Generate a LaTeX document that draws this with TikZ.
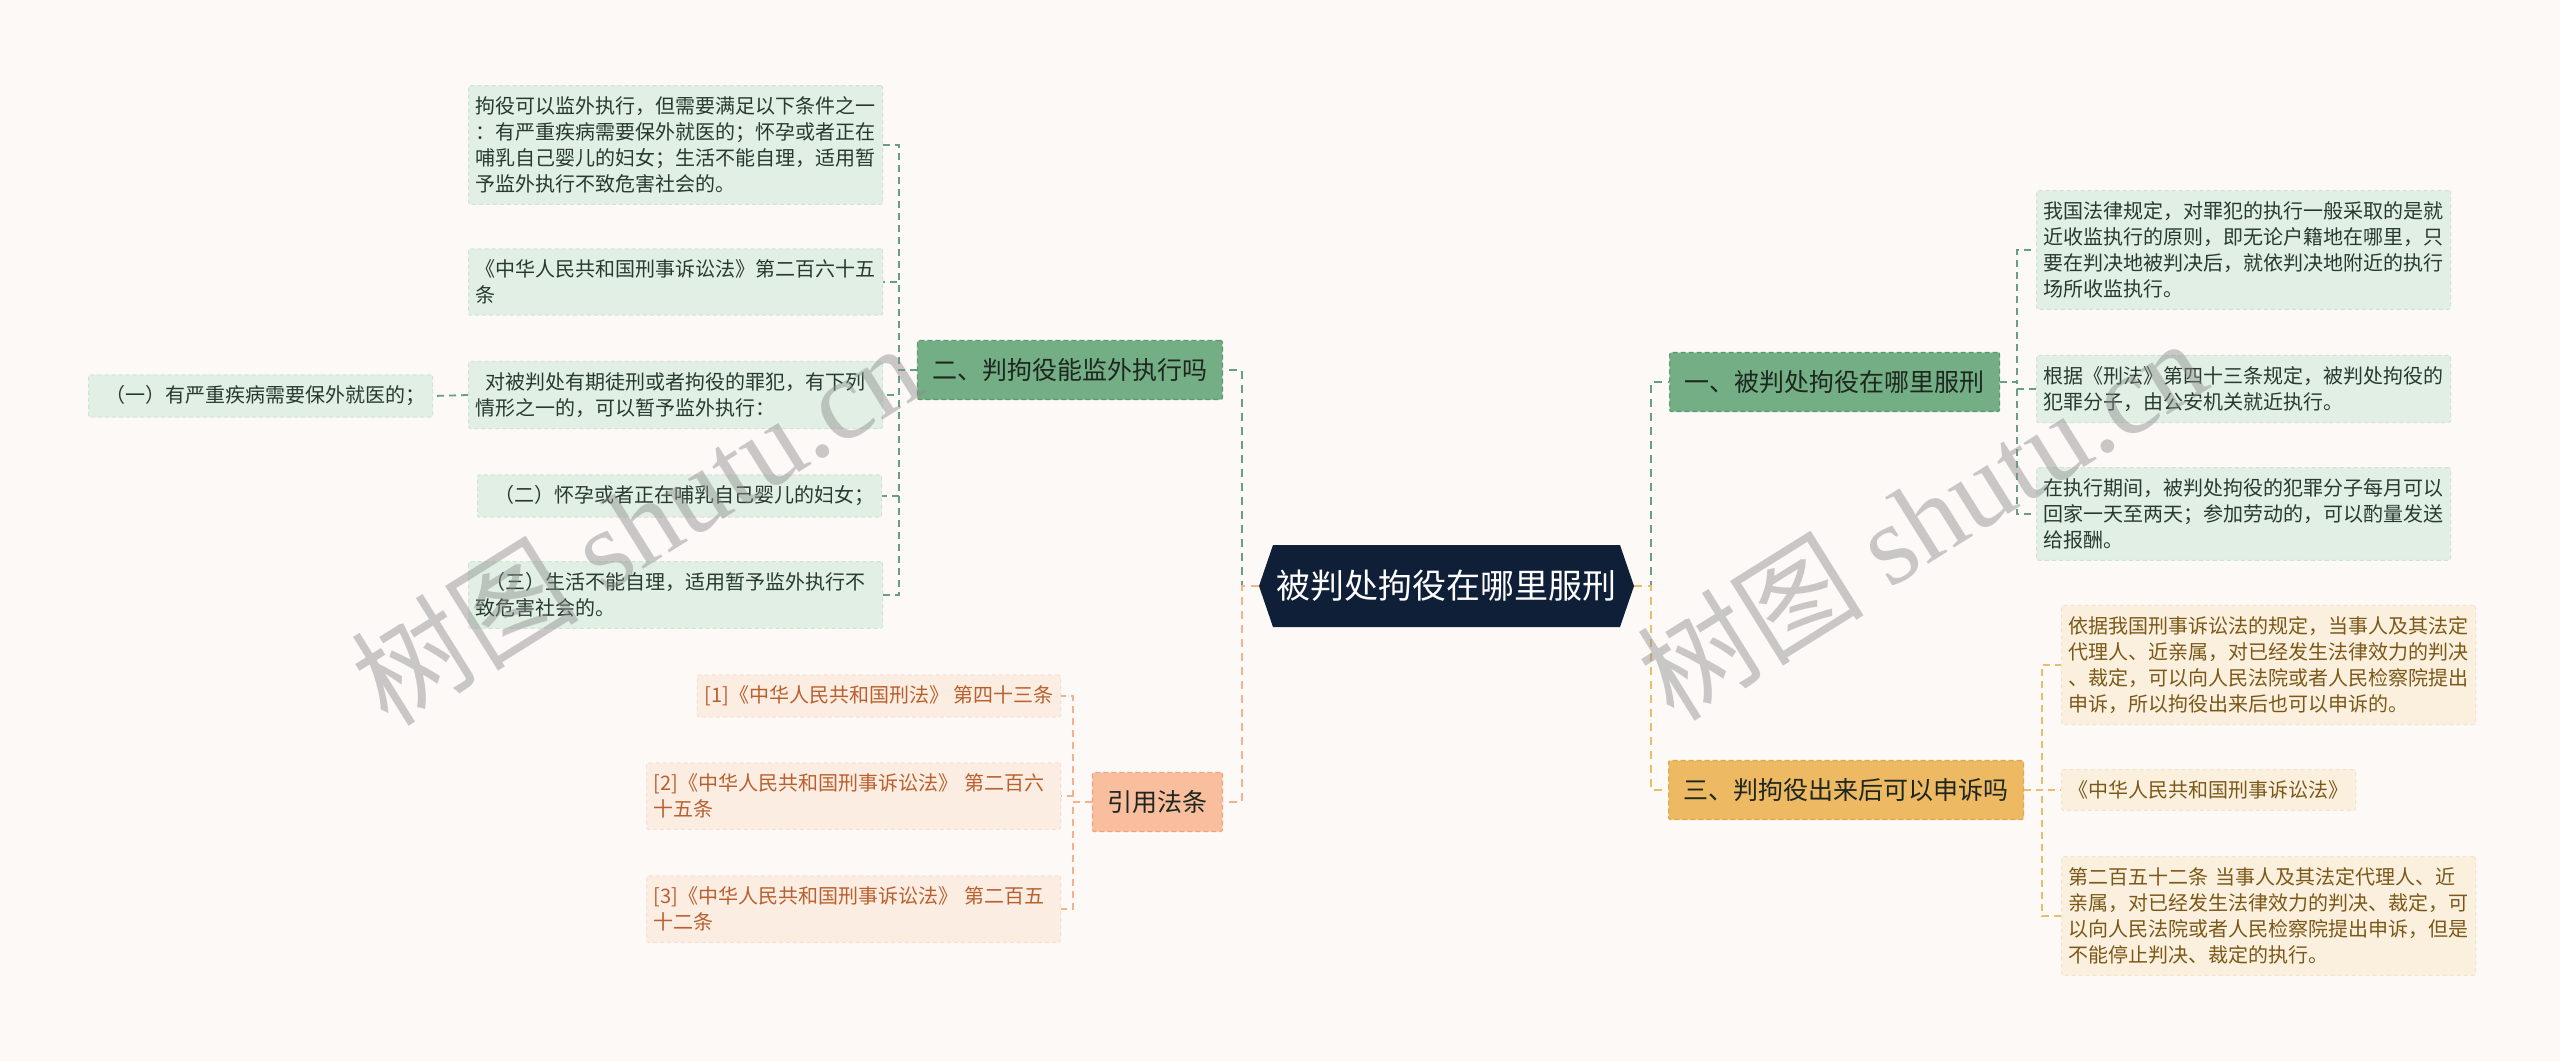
\documentclass[tikz,border=0pt]{standalone}
\usepackage{fontspec}
\setmainfont{Noto Sans CJK SC}
\newfontfamily\wmserif{Liberation Serif}
\definecolor{bgc}{RGB}{252,249,247}
\definecolor{navy}{RGB}{15,31,56}
\definecolor{gmain}{RGB}{116,174,132}
\definecolor{gmainb}{RGB}{94,152,112}
\definecolor{gleaf}{RGB}{225,239,229}
\definecolor{gleafb}{RGB}{208,228,214}
\definecolor{gtext}{RGB}{40,58,47}
\definecolor{gline}{RGB}{104,158,132}
\definecolor{omain}{RGB}{249,190,158}
\definecolor{omainb}{RGB}{240,165,125}
\definecolor{oleaf}{RGB}{252,237,227}
\definecolor{oleafb}{RGB}{246,224,211}
\definecolor{otext}{RGB}{184,96,46}
\definecolor{oline}{RGB}{242,178,144}
\definecolor{ymain}{RGB}{237,185,98}
\definecolor{ymainb}{RGB}{224,166,72}
\definecolor{yleaf}{RGB}{251,240,222}
\definecolor{yleafb}{RGB}{243,228,203}
\definecolor{ytext}{RGB}{124,88,24}
\definecolor{yline}{RGB}{231,190,106}
\definecolor{dtext}{RGB}{30,38,32}
\definecolor{wmc}{RGB}{140,140,140}
\begin{document}
\begin{tikzpicture}[x=1pt,y=-1pt,
  leaf/.style={text width=400pt, align=left, inner xsep=7pt, inner ysep=11pt,
    font=\fontsize{20}{26}\selectfont, rounded corners=2pt, line width=1pt,
    dash pattern=on 4pt off 3pt},
  leafn/.style={inner xsep=7pt, inner ysep=11pt,
    font=\fontsize{20}{26}\selectfont, rounded corners=2pt, line width=1pt,
    dash pattern=on 4pt off 3pt},
  gl/.style={fill=gleaf, draw=gleafb, text=gtext},
  ol/.style={fill=oleaf, draw=oleafb, text=otext},
  yl/.style={fill=yleaf, draw=yleafb, text=ytext},
  mainnode/.style={font=\fontsize{25}{30}\selectfont, text=dtext, inner xsep=15pt,
    minimum height=59pt, rounded corners=2pt, line width=1.2pt, dash pattern=on 5pt off 3pt},
  mainconn/.style={line width=2.6pt, dash pattern=on 8pt off 6pt},
  subconn/.style={line width=1.8pt, dash pattern=on 7pt off 5pt},
  wm/.style={text=wmc, text opacity=0.45, font=\fontsize{114}{120}\selectfont}
]
\fill[bgc] (0,0) rectangle (2560,1061);
\useasboundingbox (0,0) rectangle (2560,1061);

% central node
\coordinate (cl) at (1259,586);
\coordinate (cr) at (1634,586);
\fill[navy] (1273,545) -- (1620,545) -- (cr) -- (1620,627) -- (1273,627) -- (cl) -- cycle;
\node[text=white, font=\fontsize{34}{40}\selectfont] (c) at (1446.5,586) {被判处拘役在哪里服刑};

% main branches
\node[mainnode, fill=gmain, draw=gmainb, anchor=east] (n2) at (1223,370) {二、判拘役能监外执行吗};
\node[mainnode, fill=omain, draw=omainb, anchor=east] (ref) at (1223,802) {引用法条};
\node[mainnode, fill=gmain, draw=gmainb, anchor=west] (n1) at (1669,382) {一、被判处拘役在哪里服刑};
\node[mainnode, fill=ymain, draw=ymainb, anchor=west] (n3) at (1668,790) {三、判拘役出来后可以申诉吗};

% children of n2
\node[leaf, gl, anchor=west] (g1) at (468,145) {拘役可以监外执行，但需要满足以下条件之一\\：有严重疾病需要保外就医的；怀孕或者正在\\哺乳自己婴儿的妇女；生活不能自理，适用暂\\予监外执行不致危害社会的。};
\node[leaf, gl, anchor=west] (g2) at (468,282) {《中华人民共和国刑事诉讼法》第二百六十五\\条};
\node[leaf, gl, anchor=west] (g3) at (468,395) {\hspace*{10pt}对被判处有期徒刑或者拘役的罪犯，有下列\\情形之一的，可以暂予监外执行：};
\node[leafn, gl, anchor=east] (g4) at (882,496) {\hspace*{10pt}（二）怀孕或者正在哺乳自己婴儿的妇女；};
\node[leaf, gl, anchor=west] (g5) at (468,595) {\hspace*{10pt}（三）生活不能自理，适用暂予监外执行不\\致危害社会的。};
\node[leafn, gl, anchor=east] (g6) at (433,396) {\hspace*{10pt}（一）有严重疾病需要保外就医的；};

% children of ref
\node[leafn, ol, anchor=east] (r1) at (1061,696) {[1]《中华人民共和国刑法》 第四十三条};
\node[leaf, ol, anchor=west] (r2) at (646,796) {[2]《中华人民共和国刑事诉讼法》 第二百六\\十五条};
\node[leaf, ol, anchor=west] (r3) at (646,909) {[3]《中华人民共和国刑事诉讼法》 第二百五\\十二条};

% children of n1
\node[leaf, gl, anchor=west] (a1) at (2036,250) {我国法律规定，对罪犯的执行一般采取的是就\\近收监执行的原则，即无论户籍地在哪里，只\\要在判决地被判决后，就依判决地附近的执行\\场所收监执行。};
\node[leaf, gl, anchor=west] (a2) at (2036,389) {根据《刑法》第四十三条规定，被判处拘役的\\犯罪分子，由公安机关就近执行。};
\node[leaf, gl, anchor=west] (a3) at (2036,514) {在执行期间，被判处拘役的犯罪分子每月可以\\回家一天至两天；参加劳动的，可以酌量发送\\给报酬。};

% children of n3
\node[leaf, yl, anchor=west] (d1) at (2061,665) {依据我国刑事诉讼法的规定，当事人及其法定\\代理人、近亲属，对已经发生法律效力的判决\\、裁定，可以向人民法院或者人民检察院提出\\申诉，所以拘役出来后也可以申诉的。};
\node[leafn, yl, anchor=west] (d2) at (2061,790) {《中华人民共和国刑事诉讼法》};
\node[leaf, yl, anchor=west] (d3) at (2061,916) {第二百五十二条 当事人及其法定代理人、近\\亲属，对已经发生法律效力的判决、裁定，可\\以向人民法院或者人民检察院提出申诉，但是\\不能停止判决、裁定的执行。};

% connectors from central
\draw[mainconn, gline] (cl) -- ++(-17,0) |- (n2.east);
\draw[mainconn, gline] (cr) -- ++(17,0) |- (n1.west);
\draw[mainconn, oline] (cl) -- ++(-17,0) |- (ref.east);
\draw[mainconn, yline] (cr) -- ++(17,0) |- (n3.west);

% sub connectors
\foreach \t in {g1,g2,g3,g4,g5}
  \draw[subconn, gline] (n2.west) -- ++(-18,0) |- (\t.east);
\draw[subconn, gline] (g3.west) -- (g6.east);
\foreach \t in {r1,r2,r3}
  \draw[subconn, oline] (ref.west) -- ++(-19,0) |- (\t.east);
\foreach \t in {a1,a2,a3}
  \draw[subconn, gline] (n1.east) -- ++(17,0) |- (\t.west);
\foreach \t in {d1,d2,d3}
  \draw[subconn, yline] (n3.east) -- ++(18,0) |- (\t.west);

% watermarks
\node[wm, rotate=32] (wm1) at (636,523) {树图 {\wmserif shutu.cn}};
\node[wm, rotate=32] (wm2) at (1921,518) {树图 {\wmserif shutu.cn}};
\end{tikzpicture}
\end{document}
